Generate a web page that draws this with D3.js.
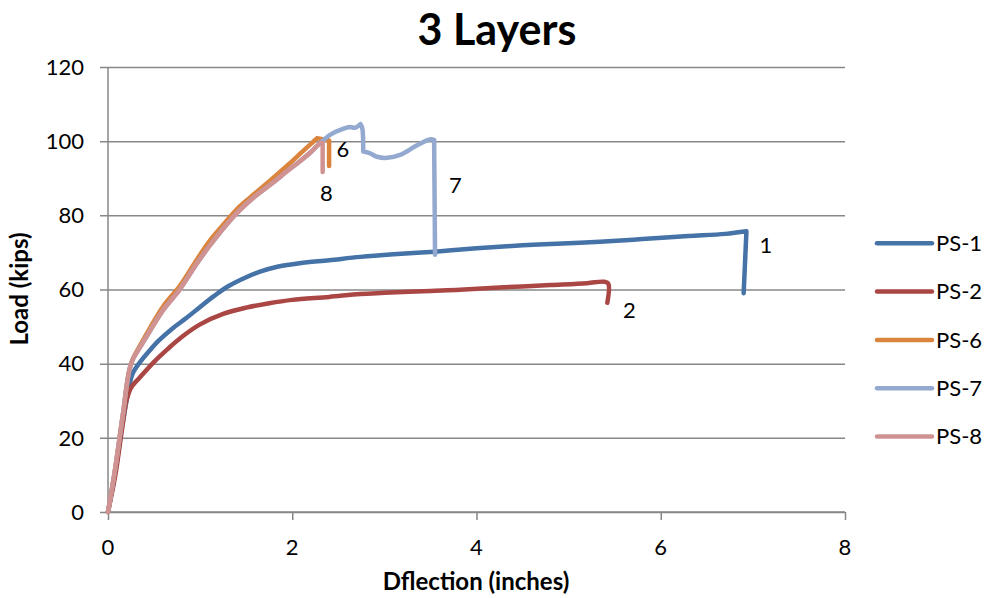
<!DOCTYPE html>
<html>
<head>
<meta charset="utf-8">
<script src="https://cdn.jsdelivr.net/npm/d3@7"></script>
<style>
  html, body { margin: 0; padding: 0; background: #fff; }
  svg { display: block; font-family: Lato, "Open Sans", sans-serif; }
</style>
</head>
<body>
<svg id="chart" width="989" height="598"></svg>
<script>
// Load–deflection curves, [deflection (in), load (kips)]
const ps1 = [[0,0],[0.08,11],[0.16,24],[0.24,35],[0.27,37.5],[0.35,40.5],[0.45,43.5],[0.55,46.2],[0.7,49.5],[0.85,52.3],[1.0,55.3],[1.15,58.2],[1.3,60.8],[1.5,63.3],[1.65,64.8],[1.85,66.2],[2.08,67.1],[2.4,67.9],[2.74,68.8],[3.1,69.5],[3.55,70.2],[4.0,71.1],[4.5,71.9],[5.0,72.5],[5.34,72.9],[5.8,73.6],[6.3,74.4],[6.7,75.0],[6.93,75.7],[6.9,59]];
const ps2 = [[0,0],[0.08,10],[0.15,22],[0.2,30],[0.25,33.5],[0.35,36.4],[0.5,40.5],[0.65,44],[0.8,47.2],[1.0,50.6],[1.25,53.4],[1.5,55.1],[1.75,56.3],[2.0,57.2],[2.4,58],[2.74,58.8],[3.0,59.1],[3.5,59.6],[3.82,59.9],[4.3,60.6],[4.8,61.2],[5.2,61.7],[5.38,62.1],[5.43,61.6],[5.42,56.4]];
const ps6 = [[0,0],[0.08,12],[0.16,26],[0.25,40],[0.35,45],[0.46,49.8],[0.6,55.5],[0.78,61],[0.95,67.5],[1.1,73],[1.27,78],[1.43,82.4],[1.6,86],[1.78,89.8],[1.95,93.5],[2.08,96.5],[2.2,99.2],[2.27,100.8],[2.4,100.2],[2.4,93.3]];
const ps7 = [[0,0],[0.08,12],[0.16,26],[0.25,40],[0.35,44.5],[0.46,49],[0.6,54.5],[0.78,60],[0.95,66.5],[1.11,72],[1.27,77],[1.43,81.4],[1.6,85.2],[1.79,88.8],[1.95,92],[2.08,94.5],[2.2,97],[2.3,99.4],[2.41,101.7],[2.55,103.3],[2.63,103.8],[2.68,103.6],[2.74,104.6],[2.76,103.5],[2.77,97.2],[2.84,96.8],[2.92,95.8],[3.03,95.5],[3.17,96.3],[3.35,98.8],[3.5,100.5],[3.54,100.3],[3.55,69.4]];
const ps8 = [[0,0],[0.08,12],[0.16,26],[0.25,40],[0.35,44.5],[0.46,49],[0.6,54.5],[0.78,60],[0.95,66.5],[1.11,72],[1.27,77],[1.43,81.4],[1.6,85.2],[1.79,88.8],[1.95,92],[2.08,94.5],[2.2,97],[2.3,99.4],[2.33,99.6],[2.33,91.7]];

const seriesNames = ["PS-1", "PS-2", "PS-6", "PS-7", "PS-8"];
const seriesData = [ps1, ps2, ps6, ps7, ps8];
const seriesColors = ["#4572A7", "#AA4643", "#DB843D", "#93A9CF", "#D19392"];
// Indices of sharp corners (failure points) in each curve
const seriesCorners = [[28], [], [17, 18], [22, 24, 31], [18]];

// Specimen numbers written beside each failure point, [label, deflection, load]
const endLabels = [["1", 7.14, 72], ["2", 5.66, 54.5], ["6", 2.55, 97.9], ["7", 3.77, 88.2], ["8", 2.37, 86]];

const xTicks = [0, 2, 4, 6, 8];
const yTicks = [0, 20, 40, 60, 80, 100, 120];

const svg = d3.select("#chart");
const x = d3.scaleLinear().domain([0, 8]).range([108, 845]);
const y = d3.scaleLinear().domain([0, 120]).range([512, 67]);
const gridColor = "#878787";

// Horizontal gridlines with left tick marks
svg.append("g")
  .attr("transform", "translate(108,0)")
  .call(d3.axisLeft(y).tickValues(yTicks).tickSize(-(845 - 108)).tickFormat(""))
  .call(g => g.select(".domain").remove())
  .call(g => g.selectAll("line").attr("stroke", gridColor).attr("stroke-width", 1.5).attr("x1", -8));

// Y axis line and labels
svg.append("line").attr("x1", 108).attr("x2", 108).attr("y1", 67).attr("y2", 512)
  .attr("stroke", gridColor).attr("stroke-width", 1.5);
svg.append("g").selectAll("text").data(yTicks).join("text")
  .attr("x", 84).attr("y", d => y(d)).attr("dy", "0.35em")
  .attr("text-anchor", "end").attr("font-size", 22).attr("fill", "#000")
  .text(d => d);

// X axis with downward ticks
svg.append("g")
  .attr("transform", "translate(0,512)")
  .call(d3.axisBottom(x).tickValues(xTicks).tickSize(8).tickFormat(""))
  .call(g => g.select(".domain").attr("stroke", gridColor).attr("stroke-width", 1.5).attr("d", "M108,0H845"))
  .call(g => g.selectAll("line").attr("stroke", gridColor).attr("stroke-width", 1.5));
svg.append("g").selectAll("text").data(xTicks).join("text")
  .attr("x", d => x(d)).attr("y", 547).attr("dy", "0.35em")
  .attr("text-anchor", "middle").attr("font-size", 22).attr("fill", "#000")
  .text(d => d);

// Curves: smooth between corners, sharp at corners
const line = d3.line().x(d => x(d[0])).y(d => y(d[1])).curve(d3.curveCatmullRom.alpha(0.5));
function cornerPath(data, corners) {
  const cuts = [0, ...corners, data.length - 1];
  let d = "";
  for (let k = 0; k < cuts.length - 1; k++) {
    d += line(data.slice(cuts[k], cuts[k + 1] + 1));
  }
  return d;
}
seriesData.forEach((data, i) => {
  svg.append("path")
    .attr("d", cornerPath(data, seriesCorners[i]))
    .attr("fill", "none")
    .attr("stroke", seriesColors[i])
    .attr("stroke-width", 4.5)
    .attr("stroke-linejoin", "round")
    .attr("stroke-linecap", "round");
});

// Specimen number labels
svg.append("g").selectAll("text").data(endLabels).join("text")
  .attr("x", d => x(d[1])).attr("y", d => y(d[2])).attr("dy", "0.35em")
  .attr("text-anchor", "middle").attr("font-size", 22).attr("fill", "#000")
  .text(d => d[0]);

// Title and axis titles
svg.append("text").attr("x", 497).attr("y", 45)
  .attr("text-anchor", "middle").attr("font-size", 43).attr("font-weight", "bold")
  .text("3 Layers");
svg.append("text").attr("transform", "translate(28,289) rotate(-90)")
  .attr("text-anchor", "middle").attr("font-size", 24).attr("font-weight", "bold")
  .text("Load (kips)");
svg.append("text").attr("x", 476).attr("y", 590)
  .attr("text-anchor", "middle").attr("font-size", 24).attr("font-weight", "bold")
  .text("Dflection (inches)");

// Legend
const legend = svg.append("g").selectAll("g").data(seriesNames).join("g")
  .attr("transform", (d, i) => `translate(0,${243.3 + i * 48.3})`);
legend.append("line").attr("x1", 877).attr("x2", 932)
  .attr("stroke", (d, i) => seriesColors[i]).attr("stroke-width", 4.5).attr("stroke-linecap", "round");
legend.append("text").attr("x", 936).attr("dy", "0.35em")
  .attr("font-size", 22).attr("fill", "#000").text(d => d);
</script>
</body>
</html>
